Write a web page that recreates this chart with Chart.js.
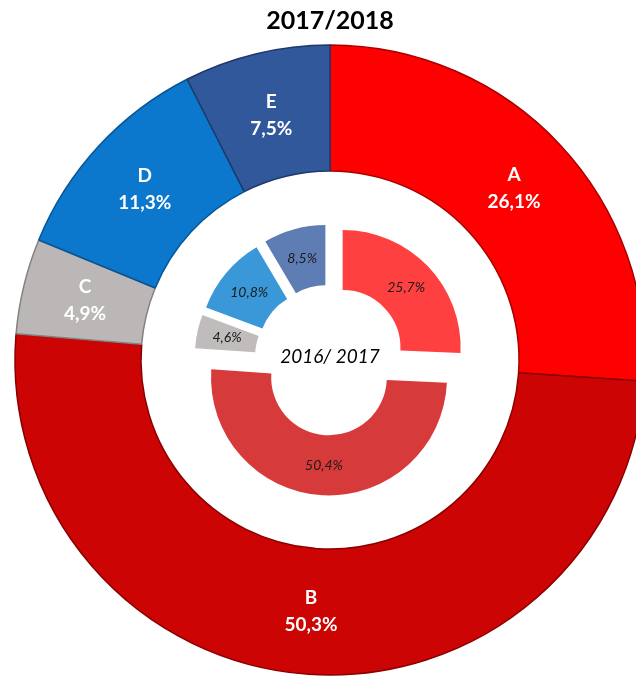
<!DOCTYPE html>
<html>
<head>
<meta charset="utf-8">
<script src="https://cdn.jsdelivr.net/npm/chart.js@4.4.1/dist/chart.umd.min.js"></script>
<style>
  html, body { margin: 0; padding: 0; background: #fff; }
  #wrap { position: relative; width: 636px; height: 676px; overflow: hidden; }
  #wrap canvas { position: absolute; left: 0; top: 0; }
</style>
</head>
<body>
<div id="wrap">
  <canvas id="graficoExterno" width="660" height="720"></canvas>
  <canvas id="graficoInterno" width="660" height="720"></canvas>
</div>
<script>
// Categorias e valores (%)
const categorias = ['A', 'B', 'C', 'D', 'E'];
const valores2017_2018 = [26.1, 50.3, 4.9, 11.3, 7.5];
const valores2016_2017 = [25.7, 50.4, 4.6, 10.8, 8.5];

const coresExterno = ['#fe0000', '#cc0404', '#bbb7b6', '#0b77cd', '#32589c'];
const bordasExterno = ['#a80000', '#8a0000', '#858180', '#075594', '#1d386a'];
const coresInterno = ['#ff4040', '#d63a3a', '#c0bcbb', '#3a98d8', '#5f7db5'];

const FONTE = 'Lato, "Open Sans", sans-serif';
const fmt = v => v.toFixed(1).replace('.', ',') + '%';

// Desloca as fatias do anel interno para fora (efeito "explodido")
const explodir = distancia => ({
  id: 'explodir',
  afterDatasetsUpdate(chart) {
    chart.getDatasetMeta(0).data.forEach(arc => {
      const meio = (arc.startAngle + arc.endAngle) / 2;
      arc.x += Math.cos(meio) * distancia;
      arc.y += Math.sin(meio) * distancia;
    });
  }
});

// Rótulos dentro das fatias
const rotulos = (linhas, fonte, cor, alturaLinha) => ({
  id: 'rotulos',
  afterDatasetsDraw(chart) {
    const { ctx } = chart;
    const valores = chart.data.datasets[0].data;
    ctx.save();
    ctx.font = fonte;
    ctx.fillStyle = cor;
    ctx.textAlign = 'center';
    ctx.textBaseline = 'middle';
    chart.getDatasetMeta(0).data.forEach((arc, i) => {
      const p = arc.tooltipPosition();
      const texto = linhas(categorias[i], valores[i]);
      const y0 = p.y - (texto.length - 1) * alturaLinha / 2;
      texto.forEach((t, k) => ctx.fillText(t, p.x, y0 + k * alturaLinha));
    });
    ctx.restore();
  }
});

const textoCentral = {
  id: 'textoCentral',
  afterDraw(chart) {
    const { ctx, chartArea } = chart;
    ctx.save();
    ctx.font = 'italic 19px ' + FONTE;
    ctx.fillStyle = '#000';
    ctx.textAlign = 'center';
    ctx.textBaseline = 'middle';
    ctx.fillText('2016/ 2017', (chartArea.left + chartArea.right) / 2, (chartArea.top + chartArea.bottom) / 2 - 3);
    ctx.restore();
  }
};

// Anel externo - 2017/2018
new Chart(document.getElementById('graficoExterno').getContext('2d'), {
  type: 'doughnut',
  data: {
    labels: categorias,
    datasets: [{
      data: valores2017_2018,
      backgroundColor: coresExterno,
      borderColor: bordasExterno,
      borderWidth: 1.5
    }]
  },
  options: {
    responsive: false,
    animation: false,
    radius: 315,
    cutout: '60%',
    layout: { padding: { top: 0, bottom: 40, left: 0, right: 0 } },
    plugins: {
      legend: { display: false },
      tooltip: { enabled: false },
      title: {
        display: true,
        text: '2017/2018',
        color: '#000',
        font: { family: FONTE, size: 25, weight: 'bold' },
        padding: { top: 6, bottom: 4 }
      }
    }
  },
  plugins: [rotulos((c, v) => [c, fmt(v)], 'bold 19px ' + FONTE, '#fff', 27)]
});

// Anel interno - 2016/2017
new Chart(document.getElementById('graficoInterno').getContext('2d'), {
  type: 'doughnut',
  data: {
    labels: categorias,
    datasets: [{
      data: valores2016_2017,
      backgroundColor: coresInterno,
      borderWidth: 0
    }]
  },
  options: {
    responsive: false,
    animation: false,
    radius: 118,
    cutout: '49%',
    plugins: {
      legend: { display: false },
      tooltip: { enabled: false }
    }
  },
  plugins: [explodir(17.5), rotulos((c, v) => [fmt(v)], 'italic 14px ' + FONTE, '#1a1a1a', 0), textoCentral]
});
</script>
</body>
</html>
